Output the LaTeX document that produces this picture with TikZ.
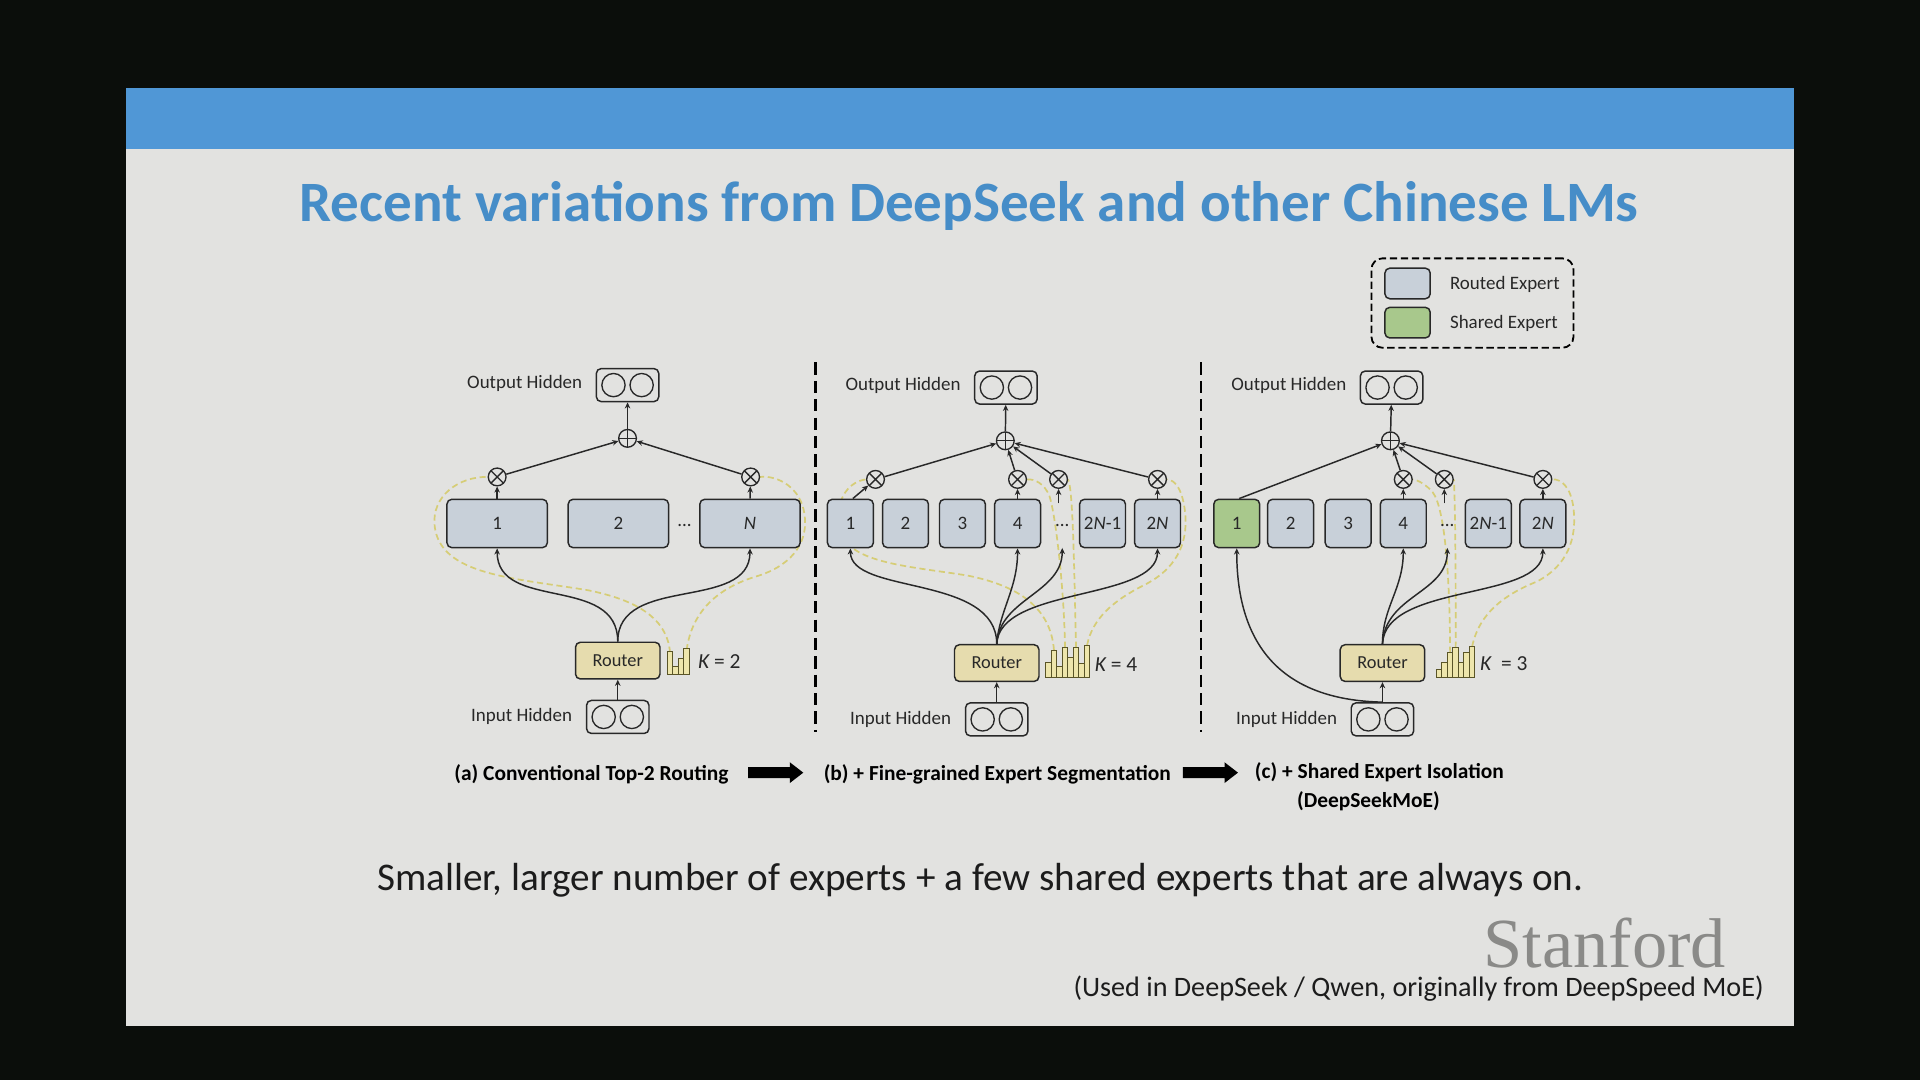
\documentclass[tikz,border=0pt]{standalone}
\usepackage{fontspec}
\setmainfont{Carlito}
\newfontfamily\stanfont{Liberation Serif}
\usetikzlibrary{arrows.meta}
\definecolor{frame}{RGB}{11,14,11}
\definecolor{slidebg}{RGB}{226,226,224}
\definecolor{band}{RGB}{80,151,214}
\definecolor{titleblue}{RGB}{70,141,200}
\definecolor{routed}{RGB}{200,208,217}
\definecolor{shared}{RGB}{168,200,140}
\definecolor{routerfill}{RGB}{230,220,174}
\definecolor{ink}{RGB}{40,40,40}
\definecolor{gate}{RGB}{214,205,118}
\definecolor{barfill}{RGB}{238,230,172}
\definecolor{baredge}{RGB}{90,85,40}
\definecolor{stangrey}{RGB}{138,138,136}
\definecolor{bodytext}{RGB}{28,28,28}
\pgfdeclarelayer{back}
\pgfdeclarelayer{gates}
\pgfsetlayers{back,gates,main}
\begin{document}
\begin{tikzpicture}[x=1pt,y=-1pt,
 expert/.style={draw=ink, fill=routed, rounded corners=4pt, line width=1.2pt, minimum width=37.5pt, minimum height=39.5pt, inner sep=0pt, text=ink, font=\fontsize{15.5}{18}\selectfont},
 wideexpert/.style={expert, minimum width=82pt},
 sharedexp/.style={expert, fill=shared},
 routerbox/.style={draw=ink, fill=routerfill, rounded corners=4pt, line width=1.2pt, minimum width=69pt, minimum height=30pt, inner sep=0pt, text=ink, font=\fontsize{15}{18}\selectfont},
 hidbox/.style={draw=ink, rounded corners=4pt, line width=1.2pt, minimum width=51pt, minimum height=27pt, inner sep=0pt,
   path picture={\draw[ink,line width=1.1pt] ([xshift=-11.5pt]path picture bounding box.center) circle[radius=9.5pt] ([xshift=11.5pt]path picture bounding box.center) circle[radius=9.5pt];}},
 lbl/.style={font=\fontsize{15.5}{18}\selectfont, text=ink, inner sep=0pt},
 klbl/.style={font=\fontsize{17.5}{20}\selectfont, text=ink, inner sep=0pt, anchor=west},
 gsum/.style={circle, draw=ink, line width=1.1pt, minimum size=14.5pt, inner sep=0pt,
   path picture={\draw[ink, line width=1.1pt] (path picture bounding box.north) -- (path picture bounding box.south) (path picture bounding box.west) -- (path picture bounding box.east);}},
 gmul/.style={circle, draw=ink, line width=1.1pt, minimum size=14.5pt, inner sep=0pt,
   path picture={\draw[ink, line width=1.1pt] (path picture bounding box.north west) -- (path picture bounding box.south east) (path picture bounding box.north east) -- (path picture bounding box.south west);}},
 conn/.style={draw=ink, line width=1.2pt, -{Stealth[length=5pt,width=4.5pt]}},
 gatepath/.style={draw=gate, line width=1.4pt, dash pattern=on 5pt off 3pt},
 sepline/.style={draw=black, line width=1.8pt, dash pattern=on 10pt off 5pt},
 bar/.style={draw=baredge, fill=barfill, line width=0.8pt},
 caption/.style={font=\bfseries\fontsize{17.5}{20}\selectfont, inner sep=0pt, text=black},
 blockarrow/.style={fill=black}
]
\useasboundingbox (0,0) rectangle (1568,882);
\begin{pgfonlayer}{back}
\fill[frame] (0,0) rectangle (1568,882);
\fill[slidebg] (103,72) rectangle (1465,838);
\fill[band] (103,72) rectangle (1465,122);
\end{pgfonlayer}

% title and texts
\node[anchor=base, font=\bfseries\fontsize{46.6}{55}\selectfont, text=titleblue, inner sep=0pt] (title) at (791.5,181) {Recent variations from DeepSeek and other Chinese LMs};
\node[anchor=base, font=\fontsize{32}{38}\selectfont, text=bodytext, inner sep=0pt] (summary) at (800.5,727) {Smaller, larger number of experts + a few shared experts that are always on.};
\node[anchor=base, font=\stanfont\fontsize{57.5}{66}\selectfont, text=stangrey, inner sep=0pt] (stanford) at (1310.5,790) {Stanford};
\node[anchor=base, font=\fontsize{23}{27}\selectfont, text=bodytext, inner sep=0pt] (cite) at (1158.5,814) {(Used in DeepSeek / Qwen, originally from DeepSpeed MoE)};

% legend
\node[draw=black, line width=1.5pt, dash pattern=on 6pt off 3pt, rounded corners=9pt, minimum width=165pt, minimum height=73pt, inner sep=0pt] (legend) at (1202.5,247.5) {};
\node[expert, minimum width=37pt, minimum height=25pt] (swR) at (1149.5,231.5) {};
\node[sharedexp, minimum width=37pt, minimum height=25pt] (swS) at (1149.5,263.5) {};
\node[lbl, anchor=west] (legR) at (1184,232) {Routed Expert};
\node[lbl, anchor=west] (legS) at (1184,264) {Shared Expert};

% separators
\draw[sepline] (666,296) -- (666,598);
\draw[sepline] (981,296) -- (981,598);

% ================= panel (a)
\node[hidbox] (outA) at (512.5,314.5) {};
\node[lbl] (outAl) at (428.5,313) {Output Hidden};
\node[gsum] (pA) at (512.5,358) {};
\node[gmul] (tA1) at (406,389.5) {};
\node[gmul] (tAN) at (613,389.5) {};
\node[wideexpert] (a1) at (406,427.5) {1};
\node[wideexpert] (a2) at (505,427.5) {2};
\node[wideexpert] (aN) at (612.5,427.5) {\itshape N};
\node[lbl] (adots) at (559,429) {...};
\node[routerbox] (rA) at (504.5,539.5) {Router};
\node[hidbox] (inA) at (504.5,585.5) {};
\node[lbl] (inAl) at (426,585) {Input Hidden};
\node[klbl] (kA) at (570,540) {{\itshape K} = 2};
\foreach \i/\h in {0/19,1/7,2/13,3/21}{
  \draw[bar] (545+4.5*\i,551) rectangle ++(4.5,-\h);
}
\coordinate (gA1) at (547.2,533);
\coordinate (gA2) at (560.7,531);

\draw[conn] (inA.north) -- (rA.south);
\draw[conn] (rA.north) .. controls +(0,-55) and +(0,52) .. (a1.south);
\draw[conn] (rA.north) .. controls +(0,-55) and +(0,52) .. (aN.south);
\draw[conn] (a1.north) -- (tA1);
\draw[conn] (aN.north) -- (tAN);
\draw[conn] (tA1) -- (pA);
\draw[conn] (tAN) -- (pA);
\draw[conn] (pA) -- (outA);
\begin{pgfonlayer}{gates}
\draw[gatepath] (gA1) .. controls (545,505) and (520,490) .. (480,482) .. controls (420,472) and (360,470) .. (355,430) .. controls (352,405) and (375,389) .. (tA1.west);
\draw[gatepath] (gA2) .. controls (565,500) and (585,480) .. (620,470) .. controls (650,460) and (660,440) .. (657,420) .. controls (654,398) and (635,388) .. (tAN.east);
\end{pgfonlayer}

% ================= panel (b)
\node[hidbox] (outB) at (821.5,316.5) {};
\node[lbl] (outBl) at (737.5,315) {Output Hidden};
\node[gsum] (pB) at (821,360) {};
\node[expert] (b1) at (694.5,427.5) {1};
\node[expert] (b2) at (739.5,427.5) {2};
\node[expert] (b3) at (786,427.5) {3};
\node[expert] (b4) at (831,427.5) {4};
\node[lbl] (bdots) at (867.5,429) {...};
\node[expert] (b2N1) at (900.4,427.5) {2{\itshape N}-1};
\node[expert] (b2N) at (945.3,427.5) {2{\itshape N}};
\node[gmul] (tB1) at (715,391.5) {};
\node[gmul] (tB4) at (831,391.5) {};
\node[gmul] (tBd) at (864.5,391.5) {};
\node[gmul] (tBN) at (945.3,391.5) {};
\node[routerbox] (rB) at (814,541.5) {Router};
\node[hidbox] (inB) at (814,587.5) {};
\node[lbl] (inBl) at (735.5,587.4) {Input Hidden};
\node[klbl] (kB) at (894,543) {{\itshape K} = 4};
\foreach \i/\h in {0/12,1/22,2/9,3/24,4/16,5/24,6/11,7/26}{
  \draw[bar] (854+4.5*\i,553) rectangle ++(4.5,-\h);
}
\coordinate (gB1) at (860.75,531);
\coordinate (gB2) at (869.75,529);
\coordinate (gB3) at (878.75,529);
\coordinate (gB4) at (887.75,527);
\coordinate (bdt) at (864.5,411);
\coordinate (bdb) at (867.5,447.5);

\draw[conn] (inB.north) -- (rB.south);
\draw[conn] (rB.north) .. controls +(0,-57) and +(0,38) .. (b1.south);
\draw[conn] (rB.north) .. controls +(2,-27) and +(0,33) .. (b4.south);
\draw[conn] (rB.north) .. controls +(2,-37) and +(0,37) .. (bdb);
\draw[conn] (rB.north) .. controls +(2,-47) and +(0,43) .. (b2N.south);
\draw[conn] ([xshift=2pt]b1.north) -- (tB1);
\draw[conn] (b4.north) -- (tB4);
\draw[conn] (bdt) -- (tBd);
\draw[conn] (b2N.north) -- (tBN);
\draw[conn] (tB1) -- (pB);
\draw[conn] (tB4) -- (pB);
\draw[conn] (tBd) -- (pB);
\draw[conn] (tBN) -- (pB);
\draw[conn] (pB) -- (outB);
\begin{pgfonlayer}{gates}
\draw[gatepath] (gB1) .. controls (858,495) and (830,478) .. (790,470) .. controls (740,462) and (690,460) .. (685,430) .. controls (682,405) and (695,393) .. (tB1.west);
\draw[gatepath] (gB2) .. controls (869,480) and (862,420) .. (857,405) .. controls (853,395) and (845,391) .. (tB4.east);
\draw[gatepath] (gB3) .. controls (877,450) and (876,400) .. (tBd.east);
\draw[gatepath] (gB4) .. controls (892,505) and (910,490) .. (934,478) .. controls (960,465) and (970,445) .. (968,420) .. controls (966,400) and (960,392) .. (tBN.east);
\end{pgfonlayer}

% ================= panel (c)
\node[hidbox] (outC) at (1136.5,316.5) {};
\node[lbl] (outCl) at (1052.5,315) {Output Hidden};
\node[gsum] (pC) at (1135.5,360) {};
\node[sharedexp] (c1) at (1010,427.5) {1};
\node[expert] (c2) at (1054,427.5) {2};
\node[expert] (c3) at (1101,427.5) {3};
\node[expert] (c4) at (1146,427.5) {4};
\node[lbl] (cdots) at (1182,429) {...};
\node[expert] (c2N1) at (1215.5,427.5) {2{\itshape N}-1};
\node[expert] (c2N) at (1260,427.5) {2{\itshape N}};
\node[gmul] (tC4) at (1146,391.5) {};
\node[gmul] (tCd) at (1179.5,391.5) {};
\node[gmul] (tCN) at (1260,391.5) {};
\node[routerbox] (rC) at (1129,541.5) {Router};
\node[hidbox] (inC) at (1129,587.5) {};
\node[lbl] (inCl) at (1050.7,587.4) {Input Hidden};
\node[klbl] (kC) at (1208.6,542) {{\itshape K}\ \ = 3};
\foreach \i/\h in {0/6,1/12,2/20,3/24,4/12,5/20,6/25}{
  \draw[bar] (1173+4.5*\i,553) rectangle ++(4.5,-\h);
}
\coordinate (gC2) at (1184.25,533);
\coordinate (gC3) at (1188.75,529);
\coordinate (gC4) at (1202.25,528);
\coordinate (cdt) at (1179.5,411);
\coordinate (cdb) at (1182,447.5);

\draw[conn] (inC.north) -- (rC.south);
\draw[conn] (inC.north) .. controls (1060,572) and (1010,540) .. (c1.south);
\draw[conn] (rC.north) .. controls +(0,-30) and +(0,33) .. (c4.south);
\draw[conn] (rC.north) .. controls +(2,-40) and +(0,37) .. (cdb);
\draw[conn] (rC.north) .. controls +(2,-50) and +(0,43) .. (c2N.south);
\draw[conn] ([xshift=2pt]c1.north) -- (pC);
\draw[conn] (c4.north) -- (tC4);
\draw[conn] (cdt) -- (tCd);
\draw[conn] (c2N.north) -- (tCN);
\draw[conn] (tC4) -- (pC);
\draw[conn] (tCd) -- (pC);
\draw[conn] (tCN) -- (pC);
\draw[conn] (pC) -- (outC);
\begin{pgfonlayer}{gates}
\draw[gatepath] (gC2) .. controls (1184,470) and (1180,415) .. (1170,402) .. controls (1165,396) and (1158,392) .. (tC4.east);
\draw[gatepath] (gC3) .. controls (1189,450) and (1188,400) .. (tCd.east);
\draw[gatepath] (gC4) .. controls (1208,500) and (1230,485) .. (1255,475) .. controls (1280,462) and (1288,440) .. (1285,415) .. controls (1283,398) and (1275,391) .. (tCN.east);
\end{pgfonlayer}

% captions
\node[caption, anchor=base] (capA) at (483,637) {(a) Conventional Top-2 Routing};
\coordinate (arr1) at (633.5,631);
\fill[blockarrow] (arr1) ++(-22.5,-4.5) -- ++(34,0) -- ++(0,-4) -- ++(11,8.5) -- ++(-11,8.5) -- ++(0,-4) -- ++(-34,0) -- cycle;
\node[caption, anchor=base] (capB) at (814.5,637) {(b) + Fine-grained Expert Segmentation};
\coordinate (arr2) at (988.5,631);
\fill[blockarrow] (arr2) ++(-22.5,-4.5) -- ++(34,0) -- ++(0,-4) -- ++(11,8.5) -- ++(-11,8.5) -- ++(0,-4) -- ++(-34,0) -- cycle;
\node[caption, anchor=base] (capC) at (1126.5,636) {(c) + Shared Expert Isolation};
\node[caption, anchor=base] (capC2) at (1117.5,659.5) {(DeepSeekMoE)};
\end{tikzpicture}
\end{document}
